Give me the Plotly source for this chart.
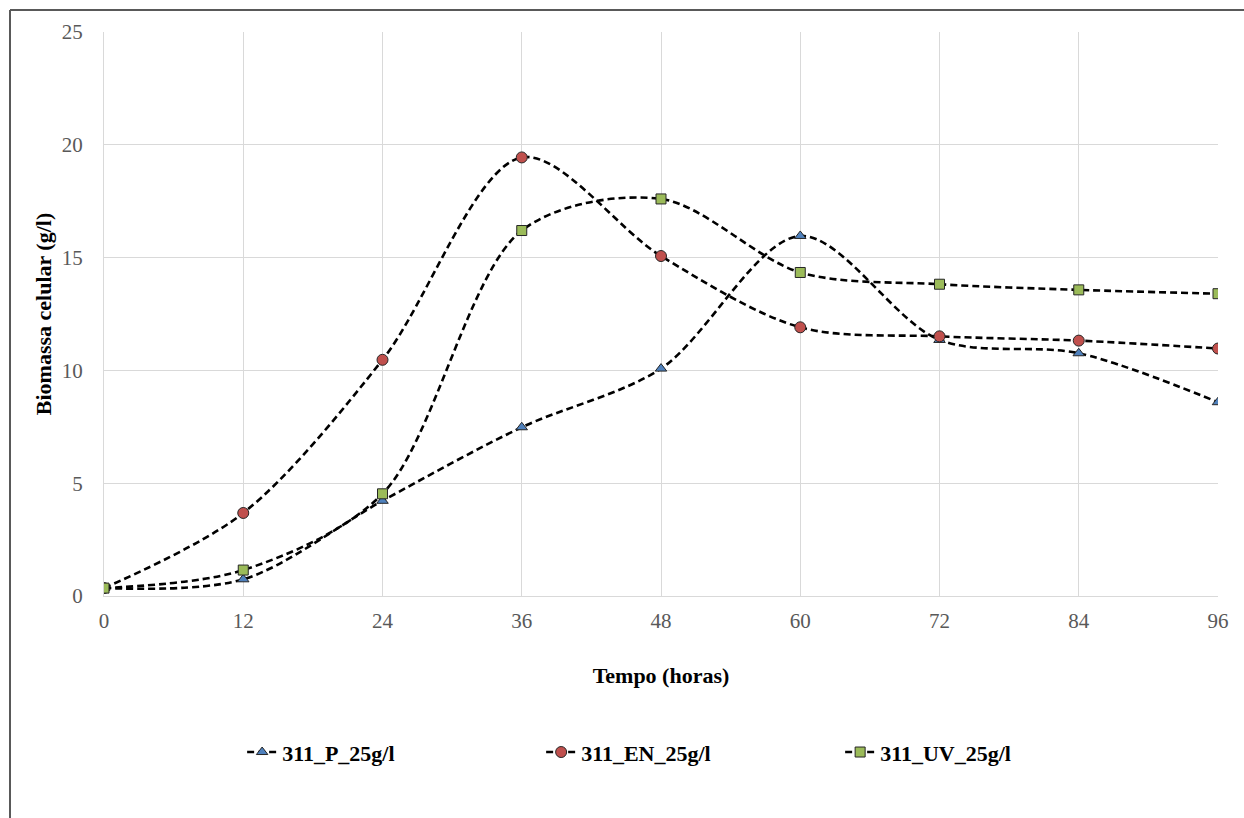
import plotly.graph_objects as go

# Sampling times (hours) and cell biomass (g/l) for each strain
tempo = [0, 12, 24, 36, 48, 60, 72, 84, 96]
p_25 = [0.35, 0.74, 4.22, 7.48, 10.08, 15.96, 11.35, 10.76, 8.59]
en_25 = [0.35, 3.68, 10.47, 19.44, 15.07, 11.91, 11.51, 11.32, 10.97]
uv_25 = [0.35, 1.15, 4.53, 16.2, 17.6, 14.34, 13.82, 13.57, 13.4]

series_names = ["311_P_25g/l", "311_EN_25g/l", "311_UV_25g/l"]
x_ticks = [0, 12, 24, 36, 48, 60, 72, 84, 96]
y_ticks = [0, 5, 10, 15, 20, 25]

styles = [
    dict(symbol="triangle-up", color="#4F81BD", size=10),
    dict(symbol="circle", color="#C0504D", size=11),
    dict(symbol="square", color="#9BBB59", size=10),
]

fig = go.Figure()
for name, vals, st in zip(series_names, [p_25, en_25, uv_25], styles):
    fig.add_trace(go.Scatter(
        x=tempo, y=vals, name=name, mode="lines+markers",
        line=dict(color="black", width=2.6, dash="7px,4px", shape="spline", smoothing=0.9),
        marker=dict(symbol=st["symbol"], size=st["size"], color=st["color"],
                    line=dict(color="#262626", width=1)),
    ))

serif = "Liberation Serif, Times New Roman, serif"
grid = "#D9D9D9"

fig.update_layout(
    width=1244, height=818,
    margin=dict(l=104, r=26, t=32, b=222),
    paper_bgcolor="white", plot_bgcolor="white",
    font=dict(family=serif, size=21, color="#595959"),
    showlegend=True,
    legend=dict(
        orientation="h", x=0.124, xanchor="left", y=-0.277, yanchor="middle",
        font=dict(family=serif, size=22, color="black", weight="bold"),
        entrywidth=254, itemwidth=30,
    ),
    xaxis=dict(
        range=[0, 96], tickvals=x_ticks, showgrid=True, gridcolor=grid, gridwidth=1,
        showline=True, linecolor=grid, linewidth=1, zeroline=False, mirror=False,
        ticks="", ticklabelstandoff=6,
        title=dict(text="Tempo (horas)", standoff=35,
                   font=dict(family=serif, size=22, color="black", weight="bold")),
    ),
    yaxis=dict(
        range=[0, 25], tickvals=y_ticks, showgrid=True, gridcolor=grid, gridwidth=1,
        showline=True, linecolor=grid, linewidth=1, zeroline=False,
        ticks="", ticklabelstandoff=16,
        title=dict(text="Biomassa celular (g/l)", standoff=4,
                   font=dict(family=serif, size=22, color="black", weight="bold")),
    ),
)

# Outer chart frame (top and left edges)
x_left = (10 - 104) / 1114
y_top = (596 - 10) / 564
fig.add_shape(type="line", xref="paper", yref="paper", x0=x_left, x1=1.2, y0=y_top, y1=y_top,
              line=dict(color="#595959", width=2))
fig.add_shape(type="line", xref="paper", yref="paper", x0=x_left, x1=x_left, y0=y_top, y1=-0.5,
              line=dict(color="#595959", width=2))

fig.write_html("out.html")
